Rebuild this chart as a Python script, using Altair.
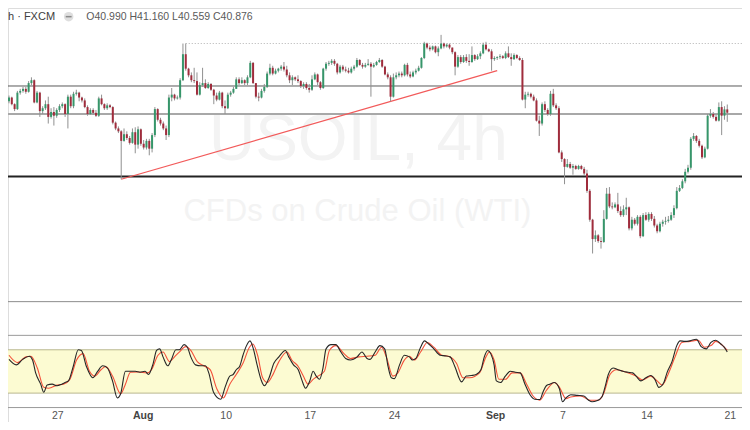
import altair as alt
import pandas as pd

W, H = 734, 414
SX = W / 750.0
SY = H / 430.0

# ---------------- price data (USOIL 4h, FXCM) ----------------
first_open = 41.27
closes = [
    41.40, 41.17, 41.00, 41.57, 41.63, 41.70, 41.60, 41.90, 42.00, 41.23,
    41.57, 40.93, 41.03, 41.17, 40.73, 40.90, 40.77, 40.97, 41.10, 41.17,
    40.83, 41.43, 41.10, 41.53, 41.57, 41.40, 41.30, 41.07, 40.83, 40.97,
    40.87, 40.77, 41.37, 41.17, 41.03, 41.13, 41.07, 40.53, 40.33, 40.23,
    39.90, 40.13, 40.00, 39.83, 40.20, 39.77, 40.30, 39.80, 39.67, 39.90,
    39.63, 40.10, 41.00, 40.63, 40.50, 40.33, 40.10, 41.40, 41.50, 41.37,
    41.40, 42.00, 42.90, 42.40, 42.17, 42.00, 41.97, 41.50, 41.83, 41.90,
    41.73, 41.87, 41.67, 41.47, 41.33, 41.57, 41.10, 41.03, 41.50, 41.57,
    41.70, 42.03, 41.90, 42.00, 41.90, 42.10, 42.60, 41.90, 41.43, 41.40,
    41.63, 41.77, 42.23, 42.43, 42.23, 42.33, 42.40, 42.47, 42.37, 42.17,
    42.00, 42.10, 42.03, 41.97, 41.80, 41.87, 41.73, 41.67, 42.03, 42.20,
    41.93, 41.73, 42.40, 42.57, 42.60, 42.67, 42.57, 42.27, 42.47, 42.37,
    42.33, 42.27, 42.40, 42.47, 42.70, 42.53, 42.47, 42.53, 42.57, 42.47,
    42.53, 42.63, 42.70, 42.47, 42.20, 42.10, 41.43, 42.10, 42.17, 42.23,
    42.17, 42.53, 42.20, 42.13, 42.27, 42.33, 42.43, 42.77, 43.27, 43.13,
    43.07, 43.17, 42.97, 43.10, 43.27, 43.17, 43.23, 43.13, 42.97, 42.47,
    42.80, 42.63, 42.80, 42.67, 42.63, 42.87, 42.73, 42.83, 42.93, 43.23,
    43.07, 43.00, 42.73, 42.77, 42.80, 42.83, 42.77, 42.93, 42.80, 42.73,
    42.87, 42.77, 42.70, 41.33, 41.50, 41.53, 41.43, 41.30, 40.60, 40.50,
    41.17, 40.97, 40.83, 41.53, 41.13, 41.03, 39.50, 39.27, 39.00, 39.10,
    38.97, 39.03, 38.93, 39.03, 38.93, 38.77, 38.17, 37.17, 36.50, 36.63,
    36.43, 36.40, 37.20, 38.07, 37.63, 37.60, 37.70, 37.47, 37.33, 37.53,
    37.60, 36.87, 37.17, 37.03, 37.27, 36.60, 37.33, 37.17, 37.37, 37.20,
    36.97, 36.77, 37.03, 37.10, 37.13, 37.17, 37.33, 37.57, 38.17, 38.27,
    38.50, 38.83, 38.97, 39.97, 40.07, 39.90, 39.73, 39.33, 39.63, 40.77,
    40.83, 40.73, 40.60, 41.07, 40.77, 40.99, 40.876,
]
highs = [
    41.47, 41.43, 41.20, 41.63, 41.70, 41.77, 41.77, 41.97, 42.10, 42.03,
    41.63, 41.60, 41.10, 41.30, 41.43, 41.03, 41.07, 41.03, 41.17, 41.23,
    41.20, 41.50, 41.50, 41.60, 41.67, 41.60, 41.43, 41.37, 41.13, 41.03,
    41.03, 40.97, 41.43, 41.50, 41.20, 41.20, 41.17, 41.10, 40.57, 40.40,
    40.27, 40.33, 40.23, 40.07, 40.33, 40.37, 40.40, 40.33, 39.93, 39.97,
    39.97, 40.17, 41.07, 41.03, 40.70, 40.57, 40.43, 41.50, 41.73, 41.53,
    41.47, 42.07, 43.27, 43.27, 42.43, 42.27, 42.43, 42.27, 41.93, 42.43,
    42.03, 41.93, 41.90, 41.70, 41.57, 41.63, 41.60, 41.30, 41.57, 41.63,
    41.77, 42.10, 42.10, 42.10, 42.03, 42.17, 42.67, 42.63, 41.90, 41.57,
    41.70, 41.87, 42.30, 42.57, 42.50, 42.40, 42.43, 42.53, 42.63, 42.50,
    42.27, 42.17, 42.13, 42.17, 42.00, 41.93, 41.93, 41.87, 42.17, 42.27,
    42.23, 41.97, 42.43, 42.63, 42.67, 42.73, 42.73, 42.60, 42.53, 42.53,
    42.47, 42.43, 42.47, 42.53, 42.77, 42.73, 42.60, 42.60, 42.73, 42.63,
    42.60, 42.67, 42.77, 42.73, 42.50, 42.27, 42.17, 42.23, 42.27, 42.30,
    42.30, 42.57, 42.60, 42.30, 42.33, 42.40, 42.50, 42.80, 43.33, 43.30,
    43.20, 43.20, 43.20, 43.17, 43.57, 43.30, 43.27, 43.27, 43.13, 43.00,
    42.87, 42.87, 42.87, 42.90, 42.90, 43.17, 42.90, 42.90, 43.00, 43.30,
    43.33, 43.10, 43.07, 42.83, 42.83, 42.90, 42.87, 43.00, 43.17, 42.93,
    42.93, 42.90, 42.83, 42.77, 41.60, 41.60, 41.57, 41.50, 41.37, 40.77,
    41.23, 41.27, 41.03, 41.63, 41.70, 41.20, 41.10, 39.57, 39.30, 39.27,
    39.17, 39.10, 39.07, 39.07, 39.07, 39.00, 38.90, 38.23, 37.20, 36.80,
    36.67, 36.57, 37.50, 38.27, 38.30, 37.77, 37.77, 38.10, 37.63, 37.67,
    37.93, 37.63, 37.27, 37.23, 37.33, 37.33, 37.40, 37.43, 37.43, 37.43,
    37.30, 37.03, 37.10, 37.17, 37.27, 37.30, 37.43, 37.67, 38.30, 38.37,
    38.57, 38.93, 39.07, 40.03, 40.17, 40.10, 39.97, 39.77, 39.70, 40.83,
    41.00, 40.90, 40.83, 41.23, 41.27, 41.10, 41.16,
]
lows = [
    41.20, 41.13, 40.93, 40.97, 41.50, 41.57, 41.53, 41.57, 41.83, 41.20,
    41.20, 40.73, 40.83, 40.97, 40.50, 40.67, 40.43, 40.70, 40.90, 41.03,
    40.73, 40.33, 41.03, 41.03, 41.47, 41.27, 41.23, 41.03, 40.77, 40.80,
    40.80, 40.73, 40.73, 41.13, 40.97, 40.97, 41.03, 40.47, 40.27, 40.17,
    38.57, 39.87, 39.93, 39.77, 39.80, 39.47, 39.63, 39.73, 39.60, 39.60,
    39.40, 39.50, 40.03, 40.57, 40.43, 40.27, 39.93, 40.03, 41.27, 41.30,
    41.33, 41.33, 41.97, 42.33, 42.10, 41.93, 41.90, 41.47, 41.47, 41.77,
    41.70, 41.70, 41.63, 41.17, 41.27, 41.30, 41.03, 40.83, 41.00, 41.43,
    41.53, 41.70, 41.83, 41.87, 41.83, 41.83, 42.07, 41.87, 41.37, 41.27,
    41.37, 41.57, 41.73, 42.17, 42.17, 42.20, 42.27, 42.33, 42.30, 42.10,
    41.90, 41.83, 41.97, 41.90, 41.73, 41.70, 41.67, 41.57, 41.63, 42.00,
    41.83, 41.67, 41.70, 42.33, 42.50, 42.53, 42.50, 42.20, 42.23, 42.30,
    42.27, 42.23, 42.23, 42.33, 42.43, 42.50, 42.40, 42.43, 42.50, 41.43,
    42.43, 42.50, 42.60, 42.43, 42.17, 42.03, 41.27, 41.40, 42.03, 42.10,
    42.10, 42.13, 42.13, 42.07, 42.10, 42.20, 42.30, 42.40, 42.73, 43.07,
    43.00, 43.03, 42.93, 42.83, 43.07, 43.10, 43.13, 43.07, 42.90, 42.17,
    42.43, 42.57, 42.60, 42.60, 42.50, 42.60, 42.67, 42.70, 42.73, 42.90,
    43.03, 42.97, 42.33, 42.67, 42.70, 42.73, 42.73, 42.73, 42.77, 42.50,
    42.70, 42.73, 42.67, 41.30, 41.03, 41.43, 41.37, 41.27, 40.57, 40.07,
    40.43, 40.90, 40.77, 40.77, 41.07, 40.97, 39.47, 39.17, 38.40, 38.97,
    38.93, 38.73, 38.90, 38.90, 38.90, 38.70, 38.10, 37.10, 36.00, 36.40,
    36.37, 36.17, 36.37, 37.17, 37.57, 37.53, 37.57, 37.40, 37.27, 37.27,
    37.33, 36.80, 36.80, 36.97, 36.97, 36.53, 36.57, 37.13, 37.10, 37.13,
    36.90, 36.70, 36.73, 36.93, 37.00, 37.07, 37.13, 37.23, 37.53, 38.13,
    38.23, 38.43, 38.77, 38.90, 39.90, 39.83, 39.67, 39.27, 39.30, 39.60,
    40.70, 40.67, 40.57, 40.57, 40.10, 40.63, 40.559,
]

# ---------------- stochastic (%K black, %D red) ----------------
k_bars = [
    0, 2.6, 4.9, 7.2, 8.4, 9.5, 11.3, 12.4, 13.6, 15.4,
    17.1, 18.8, 20.0, 21.2, 22.9, 24.7, 25.8, 27.6, 29.9, 31.6,
    33.4, 35.1, 36.9, 38.6, 39.8, 41.5, 43.3, 45.0, 46.7, 48.5,
    49.7, 51.4, 52.6, 53.7, 54.9, 56.6, 57.8, 59.5, 60.7, 62.4,
    63.6, 64.8, 66.5, 68.3, 70.0, 71.2, 72.9, 75.5, 77.0, 78.7,
    79.9, 81.0, 82.2, 83.4, 84.5, 85.9, 87.1, 88.3, 89.8, 91.0,
    92.7, 94.4, 96.2, 98.5, 99.7, 101.4, 103.1, 104.3, 105.7, 107.2,
    108.4, 109.5, 110.7, 111.9, 113.0, 114.8, 116.5, 118.3, 120.0, 121.7,
    124.1, 125.8, 127.6, 128.7, 130.5, 132.2, 133.9, 135.1, 136.3, 137.4,
    139.2, 140.9, 142.7, 143.8, 145.0, 146.7, 148.1, 149.6, 151.4, 153.7,
    155.4, 157.2, 158.9, 161.3, 163.0, 164.8, 166.5, 168.2, 169.4, 170.6,
    171.7, 172.9, 173.7, 175.2, 176.9, 178.7, 180.5, 182.2, 183.9, 185.7,
    187.4, 189.2, 190.3, 191.5, 192.7, 194.4, 196.2, 197.3, 198.5, 200.2,
    202.5, 204.9, 206.6, 207.8, 209.5, 211.3, 212.4, 213.6, 215.3, 217.1,
    218.8, 220.6, 222.3, 223.5, 225.2, 227.0, 228.7, 230.2, 231.6, 233.4,
    234.5, 236.3, 238.0, 239.2, 240.9, 242.7, 245.0, 246.7, 248.5, 250.2,
    251.9, 253.7, 254.9, 256.0,
]
k_vals = [
    66.7, 59.1, 66.7, 71.1, 65.8, 48.0, 32.4, 21.3, 31.1, 32.4,
    30.2, 32.4, 34.7, 36.9, 56.9, 80.0, 79.1, 56.9, 41.3, 50.2,
    57.8, 54.7, 36.9, 13.3, 19.1, 50.2, 50.2, 50.2, 48.9, 50.2,
    45.8, 61.3, 79.1, 81.3, 70.2, 57.8, 65.8, 80.0, 80.0, 87.1,
    83.6, 70.2, 59.1, 57.8, 57.8, 48.0, 21.3, 11.6, 28.0, 43.6,
    45.8, 52.4, 56.9, 72.4, 84.4, 92.4, 81.3, 61.3, 39.1, 30.2,
    41.3, 61.3, 70.2, 79.1, 70.2, 59.1, 52.4, 39.1, 26.7, 36.9,
    50.2, 43.6, 39.1, 54.7, 81.3, 87.1, 87.1, 76.9, 68.0, 65.8,
    70.2, 76.9, 68.0, 66.7, 77.0, 85.8, 81.3, 56.9, 41.3, 40.0,
    59.1, 72.4, 70.2, 65.8, 68.0, 83.6, 92.4, 88.0, 81.3, 72.4,
    71.6, 70.2, 56.9, 35.6, 43.6, 44.4, 45.8, 52.4, 70.2, 79.1,
    74.7, 59.1, 36.9, 34.7, 43.6, 50.2, 48.9, 48.0, 32.4, 17.8,
    11.6, 11.1, 21.3, 30.2, 32.4, 34.7, 25.8, 8.0, 13.3, 17.8,
    16.9, 16.0, 10.2, 8.0, 9.3, 14.7, 28.0, 45.8, 54.7, 52.4,
    50.2, 48.9, 48.0, 43.6, 36.9, 41.3, 44.4, 39.1, 28.0, 34.7,
    48.0, 63.6, 85.8, 92.4, 91.6, 92.4, 94.7, 84.4, 81.3, 90.2,
    93.3, 88.0, 83.6, 76.9,
]
d_bars = [
    0, 3.1, 6.0, 7.8, 10.1, 12.4, 14.2, 17.1, 19.4, 21.7,
    24.1, 26.4, 28.7, 30.5, 32.8, 34.5, 36.9, 39.8, 41.5, 43.3,
    46.2, 49.1, 50.8, 53.1, 54.9, 57.2, 59.0, 60.7, 63.0, 64.8,
    67.1, 69.4, 71.7, 74.1, 76.4, 78.7, 81.0, 83.4, 85.7, 86.9,
    88.6, 90.4, 92.1, 93.8, 96.2, 99.1, 100.8, 103.1, 104.9, 106.6,
    108.4, 110.1, 112.4, 114.2, 116.5, 119.4, 121.7, 124.7, 127.6, 130.5,
    132.8, 134.5, 136.8, 138.6, 140.9, 142.7, 144.4, 146.7, 149.1, 151.4,
    154.3, 156.6, 159.5, 161.8, 164.2, 167.7, 170.0, 171.2, 172.9, 174.6,
    177.0, 179.3, 182.2, 184.5, 186.8, 189.2, 191.5, 194.4, 196.2, 198.5,
    200.2, 203.7, 207.2, 210.1, 211.9, 214.2, 216.5, 220.0, 223.5, 225.8,
    228.7, 231.0, 232.8, 235.1, 237.4, 239.8, 242.7, 245.6, 247.9, 250.2,
    251.9, 253.7, 256.0,
]
d_vals = [
    72.4, 62.2, 70.2, 71.1, 54.7, 28.0, 26.7, 31.1, 32.4, 39.1,
    65.8, 74.7, 50.2, 43.6, 52.4, 56.9, 43.6, 19.1, 32.4, 48.9,
    49.3, 48.0, 52.4, 72.4, 76.9, 63.6, 70.2, 76.9, 84.4, 79.1,
    63.6, 57.8, 52.4, 25.8, 13.3, 32.4, 45.8, 61.3, 83.6, 88.0,
    72.4, 41.3, 34.7, 43.6, 63.6, 76.9, 65.8, 56.9, 43.6, 32.4,
    39.1, 43.6, 50.2, 79.1, 85.8, 74.7, 68.0, 70.2, 71.1, 72.4,
    83.6, 70.2, 43.6, 48.0, 65.8, 71.1, 65.8, 76.9, 90.2, 83.6,
    72.4, 71.1, 61.3, 41.3, 41.3, 48.0, 70.2, 76.9, 65.8, 39.1,
    39.1, 48.0, 48.0, 32.4, 16.0, 10.2, 23.6, 34.7, 28.0, 12.4,
    14.7, 16.0, 10.2, 10.2, 19.1, 45.8, 52.4, 48.9, 43.6, 38.2,
    43.6, 36.9, 31.1, 48.0, 70.2, 90.2, 91.6, 93.3, 83.6, 85.8,
    91.6, 88.0, 79.1,
]
stoch_band = [20, 80]
stoch_bounds = [0, 100]

# ---------------- drawings ----------------
level_prices = [41.80, 40.83, 38.67]
level_colors = ["#5a5a5a", "#a8a8a8", "#222222"]
level_widths = [1.0, 2.0, 2.0]
high_line_bar = 63
high_line_price = 43.27
trend_bars = [40, 174]
trend_prices = [38.57, 42.33]

tick_bars = [17.4, 47.8, 77.4, 107.4, 137.4, 173.4, 197.4, 227.4, 257.1]
tick_labels = ["27", "Aug", "10", "17", "24", "Sep", "7", "14", "21"]
tick_bold = [False, True, False, False, False, True, False, False, False]

header_symbol = "h · FXCM"
header_ohlc = "O40.990  H41.160  L40.559  C40.876"
watermark_1 = "USOIL, 4h"
watermark_2 = "CFDs on Crude Oil (WTI)"

FONT = "Liberation Sans"
UP, DOWN = "#36966a", "#a02c3c"

# ---------------- frames ----------------
N = len(closes)
opens = [first_open] + closes[:-1]
candles = pd.DataFrame({"bar": list(range(N)), "open": opens, "high": highs,
                        "low": lows, "close": closes})
candles["dir"] = ["up" if c >= o else "down" for o, c in zip(opens, closes)]
kdf = pd.DataFrame({"bar": k_bars, "v": k_vals})
ddf = pd.DataFrame({"bar": d_bars, "v": d_vals})
levels = pd.DataFrame({"p": level_prices, "c": level_colors, "w": level_widths})
ticks = pd.DataFrame({"bar": tick_bars, "t": tick_labels, "b": tick_bold})

P_HI = 44.5
P_LO = 44.5 - 305 / 30.0
price_scale = alt.Scale(domain=[P_LO, P_HI], range=[305 * SY, 0], nice=False, zero=False)
stoch_scale = alt.Scale(domain=[0, 100], range=[415 * SY, 340 * SY], nice=False, zero=False)
x_scale = alt.Scale(domain=[-0.35, 261.25], nice=False, zero=False)

X = alt.X("bar:Q", scale=x_scale, axis=None)
one = pd.DataFrame({"a": [0]})

band = alt.Chart(pd.DataFrame({"lo": [stoch_band[0]], "hi": [stoch_band[1]]})).mark_rect(
    color="#fcfbd2").encode(
    x=alt.value(0), x2=alt.value(W),
    y=alt.Y("lo:Q", scale=stoch_scale, axis=None), y2="hi:Q")

band_lines = alt.Chart(pd.DataFrame({"v": stoch_band})).mark_rule(
    color="#b9b78f", strokeWidth=1).encode(
    x=alt.value(0), x2=alt.value(W), y=alt.Y("v:Q", scale=stoch_scale, axis=None))

bound_lines = alt.Chart(pd.DataFrame({"v": stoch_bounds})).mark_rule(
    color="#9a9a9a", strokeWidth=1).encode(
    x=alt.value(0), x2=alt.value(W), y=alt.Y("v:Q", scale=stoch_scale, axis=None))

separator = alt.Chart(one).mark_rule(color="#8c8c8c", strokeWidth=1).encode(
    x=alt.value(0), x2=alt.value(W), y=alt.value(305 * SY))

wm1 = alt.Chart(pd.DataFrame({"t": [watermark_1]})).mark_text(
    font=FONT, fontSize=64, color="#f3f3f3", align="center", baseline="alphabetic").encode(
    x=alt.value(358 * SX), y=alt.value(158 * SY), text="t:N")
wm2 = alt.Chart(pd.DataFrame({"t": [watermark_2]})).mark_text(
    font=FONT, fontSize=31, color="#f3f3f3", align="center", baseline="alphabetic").encode(
    x=alt.value(357 * SX), y=alt.value(221 * SY), text="t:N")

level_rules = alt.Chart(levels).mark_rule().encode(
    x=alt.value(0), x2=alt.value(W),
    y=alt.Y("p:Q", scale=price_scale, axis=None),
    color=alt.Color("c:N", scale=None, legend=None),
    strokeWidth=alt.StrokeWidth("w:Q", scale=None, legend=None))

high_rule = alt.Chart(pd.DataFrame({"bar": [high_line_bar], "end": [261.25],
                                    "p": [high_line_price]})).mark_rule(
    color="#b0b0b0", strokeWidth=1, strokeDash=[1, 2]).encode(
    x=X, x2="end:Q", y=alt.Y("p:Q", scale=price_scale, axis=None))

trend = alt.Chart(pd.DataFrame({"bar": trend_bars, "p": trend_prices})).mark_line(
    color="#f25a5a", strokeWidth=1.2).encode(
    x=X, y=alt.Y("p:Q", scale=price_scale, axis=None))

wicks = alt.Chart(candles).mark_rule(color="#909090", strokeWidth=1).encode(
    x=X, y=alt.Y("low:Q", scale=price_scale, axis=None), y2="high:Q")

bodies = alt.Chart(candles).mark_rule(strokeWidth=2, strokeCap="butt").encode(
    x=X, y=alt.Y("open:Q", scale=price_scale, axis=None), y2="close:Q",
    color=alt.Color("dir:N", scale=alt.Scale(domain=["up", "down"], range=[UP, DOWN]),
                    legend=None))

dline = alt.Chart(ddf).mark_line(color="#f4503a", strokeWidth=1.1, interpolate="monotone").encode(
    x=X, y=alt.Y("v:Q", scale=stoch_scale, axis=None))
kline = alt.Chart(kdf).mark_line(color="#262626", strokeWidth=1.1, interpolate="monotone").encode(
    x=X, y=alt.Y("v:Q", scale=stoch_scale, axis=None))

hdr1 = alt.Chart(pd.DataFrame({"t": [header_symbol]})).mark_text(
    font=FONT, fontSize=11, color="#404040", align="left", baseline="middle").encode(
    x=alt.value(0), y=alt.value(9 * SY), text="t:N")
icon = alt.Chart(one).mark_circle(size=90, color="#dedede", opacity=1).encode(
    x=alt.value(62 * SX), y=alt.value(9 * SY))
icon_dash = alt.Chart(one).mark_rule(color="#8a8a8a", strokeWidth=1.5).encode(
    x=alt.value(59 * SX), x2=alt.value(65 * SX), y=alt.value(9 * SY))
hdr2 = alt.Chart(pd.DataFrame({"t": [header_ohlc]})).mark_text(
    font=FONT, fontSize=10.5, color="#5a5a5a", align="left", baseline="middle").encode(
    x=alt.value(80 * SX), y=alt.value(9 * SY), text="t:N")

ticks_norm = alt.Chart(ticks[~ticks["b"]]).mark_text(
    font=FONT, fontSize=10.5, color="#555555", align="center", baseline="middle").encode(
    x=X, y=alt.value(424 * SY), text="t:N")
ticks_bold = alt.Chart(ticks[ticks["b"]]).mark_text(
    font=FONT, fontSize=10.5, fontWeight="bold", color="#444444", align="center",
    baseline="middle").encode(
    x=X, y=alt.value(424 * SY), text="t:N")

chart = alt.layer(
    band, band_lines, bound_lines, separator, wm1, wm2,
    level_rules, high_rule, trend, wicks, bodies, dline, kline,
    hdr1, icon, icon_dash, hdr2, ticks_norm, ticks_bold,
).resolve_scale(y="independent", color="independent", strokeWidth="independent").properties(
    width=W, height=H, autosize=alt.AutoSizeParams(type="none"), padding=0,
).configure_view(strokeWidth=0).configure(background="white")

chart.save("out.html", embed_options={"renderer": "svg", "actions": False})
